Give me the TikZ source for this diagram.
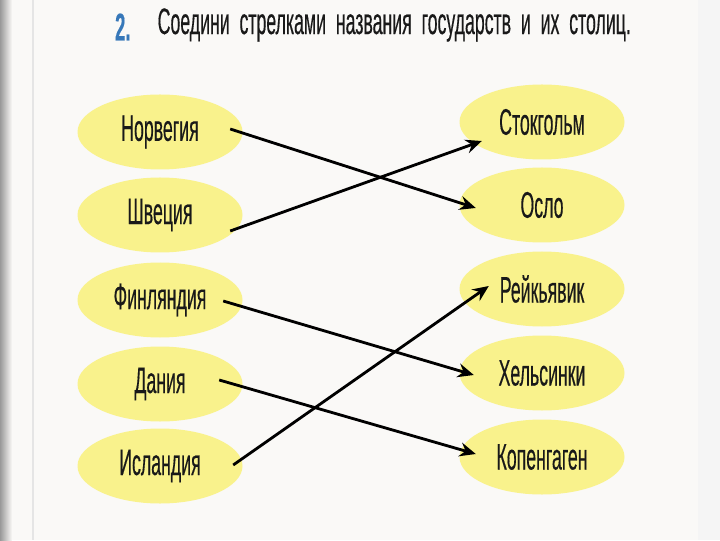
\documentclass[tikz,border=0pt]{standalone}
\usepackage{fontspec}
\setmainfont{Liberation Sans}[FakeStretch=0.48,FakeBold=0.3]
\usepackage{tikz}
\usetikzlibrary{shapes.geometric,arrows.meta}

\definecolor{pagebg}{RGB}{250,249,247}
\definecolor{ovalfill}{RGB}{249,242,140}
\definecolor{numblue}{RGB}{55,120,185}
\definecolor{inkgray}{RGB}{25,25,25}

\tikzset{
  oval/.style={ellipse, fill=ovalfill, inner sep=0pt,
    minimum width=1.65cm, minimum height=0.75cm,
    text=inkgray, font=\fontsize{10.5}{12}\selectfont},
  arr/.style={-{Stealth[length=4.6pt,width=4pt,inset=1.6pt]},
    line width=0.8pt, black}
}

\begin{document}
\begin{tikzpicture}
\useasboundingbox (0,0) rectangle (7.2,5.4);
\fill[pagebg] (0,0) rectangle (7.2,5.4);
\shade[left color=black!40, right color=pagebg] (0,0) rectangle (0.12,5.4);
\draw[black!10, line width=0.6pt] (0.33,0) -- (0.33,5.4);
\fill[black!4] (6.98,0) rectangle (7.2,5.4);

\node[anchor=east, text=numblue, font=\fontsize{11}{12}\bfseries\selectfont] (num) at (1.43,5.13) {2.};
\node[anchor=west, text=inkgray, inner sep=0pt, font=\fontsize{10.5}{12}\selectfont] (title) at (1.57,5.15)
  {Соедини\ \ стрелками\ \ названия\ \ государств\ \ и\ \ их\ \ столиц.};

% countries
\node[oval] (l1) at (1.60,4.08) {Норвегия};
\node[oval] (l2) at (1.60,3.25) {Швеция};
\node[oval] (l3) at (1.60,2.40) {Финляндия};
\node[oval] (l4) at (1.60,1.56) {Дания};
\node[oval] (l5) at (1.60,0.74) {Исландия};

% capitals
\node[oval] (r1) at (5.42,4.18) {Стокгольм};
\node[oval] (r2) at (5.42,3.35) {Осло};
\node[oval] (r3) at (5.42,2.51) {Рейкьявик};
\node[oval] (r4) at (5.42,1.67) {Хельсинки};
\node[oval] (r5) at (5.42,0.83) {Копенгаген};

\draw[arr] ([shift={(-0.13,0.03)}]l1.east) -- ([shift={(0.17,-0.03)}]r2.west);
\draw[arr] ([shift={(-0.13,-0.16)}]l2.east) -- ([shift={(0.23,-0.19)}]r1.west);
\draw[arr] ([shift={(-0.20,-0.01)}]l3.east) -- ([shift={(0.15,-0.02)}]r4.west);
\draw[arr] ([shift={(-0.24,0.04)}]l4.east) -- ([shift={(0.17,0.03)}]r5.west);
\draw[arr] ([shift={(-0.10,0.01)}]l5.east) -- ([shift={(0.30,0.03)}]r3.west);
\end{tikzpicture}
\end{document}
